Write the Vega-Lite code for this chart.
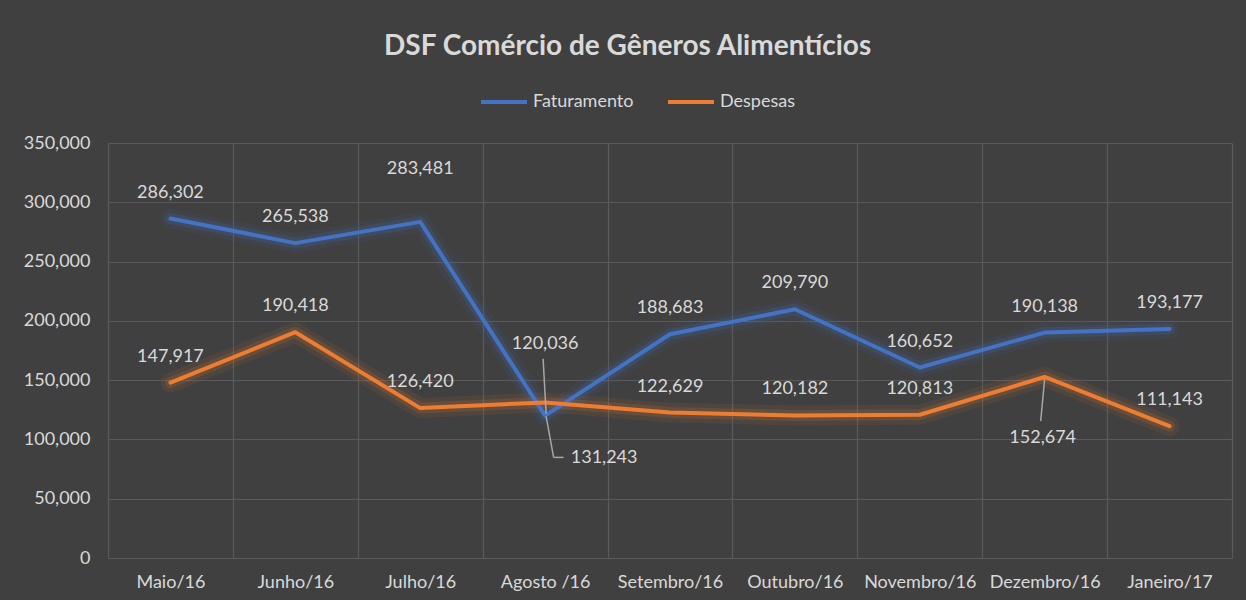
{
  "$schema": "https://vega.github.io/schema/vega-lite/v6.json",
  "width": 1246,
  "height": 600,
  "autosize": {"type": "fit", "contains": "padding"},
  "padding": {"top": 33, "left": 23, "right": 14, "bottom": 9},
  "background": "#404040",
  "title": {
    "text": "DSF Comércio de Gêneros Alimentícios",
    "anchor": "middle",
    "frame": "bounds",
    "font": "Lato",
    "fontSize": 28,
    "fontWeight": "bold",
    "color": "#D9D9D9",
    "baseline": "top",
    "offset": 73
  },
  "config": {
    "view": {"stroke": null},
    "font": "Lato",
    "text": {"font": "Lato", "fontSize": 18, "color": "#D9D9D9", "baseline": "middle", "align": "center"},
    "legend": {
      "title": null,
      "orient": "none",
      "legendX": 371,
      "legendY": -66,
      "direction": "horizontal",
      "symbolType": "stroke",
      "symbolSize": 2116,
      "symbolStrokeWidth": 4,
      "symbolOpacity": 1,
      "labelFontSize": 18,
      "labelFont": "Lato",
      "labelColor": "#D9D9D9",
      "columnPadding": 26,
      "labelOffset": 4,
      "padding": 0
    }
  },
  "data": {
    "values": [
      {"month": "Maio/16", "series": "Faturamento", "value": 286302},
      {"month": "Junho/16", "series": "Faturamento", "value": 265538},
      {"month": "Julho/16", "series": "Faturamento", "value": 283481},
      {"month": "Agosto /16", "series": "Faturamento", "value": 120036},
      {"month": "Setembro/16", "series": "Faturamento", "value": 188683},
      {"month": "Outubro/16", "series": "Faturamento", "value": 209790},
      {"month": "Novembro/16", "series": "Faturamento", "value": 160652},
      {"month": "Dezembro/16", "series": "Faturamento", "value": 190138},
      {"month": "Janeiro/17", "series": "Faturamento", "value": 193177},
      {"month": "Maio/16", "series": "Despesas", "value": 147917},
      {"month": "Junho/16", "series": "Despesas", "value": 190418},
      {"month": "Julho/16", "series": "Despesas", "value": 126420},
      {"month": "Agosto /16", "series": "Despesas", "value": 131243},
      {"month": "Setembro/16", "series": "Despesas", "value": 122629},
      {"month": "Outubro/16", "series": "Despesas", "value": 120182},
      {"month": "Novembro/16", "series": "Despesas", "value": 120813},
      {"month": "Dezembro/16", "series": "Despesas", "value": 152674},
      {"month": "Janeiro/17", "series": "Despesas", "value": 111143}
    ]
  },
  "encoding": {
    "x": {
      "field": "month",
      "type": "nominal",
      "sort": ["Maio/16", "Junho/16", "Julho/16", "Agosto /16", "Setembro/16", "Outubro/16", "Novembro/16", "Dezembro/16", "Janeiro/17"],
      "scale": {"type": "band", "paddingInner": 0, "paddingOuter": 0},
      "bandPosition": 0.5,
      "axis": {
        "title": null,
        "labelAngle": 0,
        "tickBand": "extent",
        "grid": true,
        "gridColor": "#5A5A5A",
        "gridWidth": 1.2,
        "ticks": false,
        "domain": false,
        "labelColor": "#D9D9D9",
        "labelFont": "Lato",
        "labelFontSize": 18,
        "labelPadding": 15
      }
    },
    "y": {
      "field": "value",
      "type": "quantitative",
      "scale": {"domain": [0, 350000], "nice": false},
      "axis": {
        "title": null,
        "values": [0, 50000, 100000, 150000, 200000, 250000, 300000, 350000],
        "format": ",.0f",
        "grid": true,
        "gridColor": "#5A5A5A",
        "gridWidth": 1.2,
        "ticks": false,
        "domain": false,
        "labelColor": "#D9D9D9",
        "labelFont": "Lato",
        "labelFontSize": 18,
        "labelPadding": 18
      }
    }
  },
  "layer": [
    {
      "mark": {"type": "line", "strokeWidth": 20, "opacity": 0.08, "strokeCap": "round", "strokeJoin": "round"},
      "encoding": {
        "color": {"field": "series", "type": "nominal", "scale": {"domain": ["Faturamento", "Despesas"], "range": ["#4472C4", "#ED7D31"]}}
      }
    },
    {
      "mark": {"type": "line", "strokeWidth": 11, "opacity": 0.16, "strokeCap": "round", "strokeJoin": "round"},
      "encoding": {
        "color": {"field": "series", "type": "nominal", "scale": {"domain": ["Faturamento", "Despesas"], "range": ["#4472C4", "#ED7D31"]}}
      }
    },
    {
      "mark": {"type": "line", "strokeWidth": 4, "strokeCap": "round", "strokeJoin": "round"},
      "encoding": {
        "color": {"field": "series", "type": "nominal", "scale": {"domain": ["Faturamento", "Despesas"], "range": ["#4472C4", "#ED7D31"]}}
      }
    },
    {
      "transform": [{"filter": "datum.series == 'Faturamento' && datum.month == 'Agosto /16'"}],
      "mark": {"type": "rule", "color": "#A6A6A6", "strokeWidth": 1.5, "xOffset": -2, "x2Offset": 1, "yOffset": -57, "y2Offset": -2},
      "encoding": {"x2": {"field": "month"}, "y2": {"field": "value"}}
    },
    {
      "transform": [{"filter": "datum.series == 'Despesas' && datum.month == 'Agosto /16'"}],
      "mark": {"type": "rule", "color": "#A6A6A6", "strokeWidth": 1.5, "xOffset": 1, "x2Offset": 8.5, "yOffset": 14, "y2Offset": 55},
      "encoding": {"x2": {"field": "month"}, "y2": {"field": "value"}}
    },
    {
      "transform": [{"filter": "datum.series == 'Despesas' && datum.month == 'Agosto /16'"}],
      "mark": {"type": "rule", "color": "#A6A6A6", "strokeWidth": 1.5, "xOffset": 8.5, "x2Offset": 18.5, "yOffset": 55, "y2Offset": 55},
      "encoding": {"x2": {"field": "month"}, "y2": {"field": "value"}}
    },
    {
      "transform": [{"filter": "datum.series == 'Despesas' && datum.month == 'Dezembro/16'"}],
      "mark": {"type": "rule", "color": "#A6A6A6", "strokeWidth": 1.5, "xOffset": 0, "x2Offset": -4, "yOffset": 2, "y2Offset": 44},
      "encoding": {"x2": {"field": "month"}, "y2": {"field": "value"}}
    },
    {
      "transform": [{"filter": "!(datum.month == 'Agosto /16' || (datum.series == 'Faturamento' && datum.month == 'Julho/16') || (datum.series == 'Despesas' && datum.month == 'Dezembro/16'))"}],
      "mark": {"type": "text", "dy": -26},
      "encoding": {"text": {"field": "value", "type": "quantitative", "format": ","}}
    },
    {
      "transform": [{"filter": "datum.series == 'Faturamento' && datum.month == 'Julho/16'"}],
      "mark": {"type": "text", "dy": -53},
      "encoding": {"text": {"field": "value", "type": "quantitative", "format": ","}}
    },
    {
      "transform": [{"filter": "datum.series == 'Faturamento' && datum.month == 'Agosto /16'"}],
      "mark": {"type": "text", "dy": -72},
      "encoding": {"text": {"field": "value", "type": "quantitative", "format": ","}}
    },
    {
      "transform": [{"filter": "datum.series == 'Despesas' && datum.month == 'Agosto /16'"}],
      "mark": {"type": "text", "dx": 59, "dy": 56},
      "encoding": {"text": {"field": "value", "type": "quantitative", "format": ","}}
    },
    {
      "transform": [{"filter": "datum.series == 'Despesas' && datum.month == 'Dezembro/16'"}],
      "mark": {"type": "text", "dx": -2, "dy": 61},
      "encoding": {"text": {"field": "value", "type": "quantitative", "format": ","}}
    }
  ]
}
